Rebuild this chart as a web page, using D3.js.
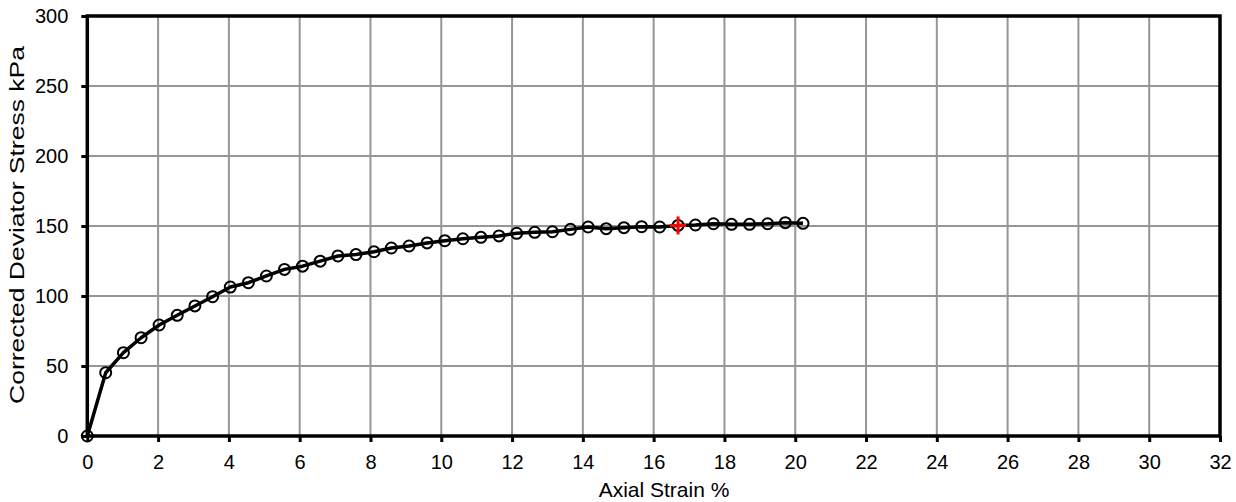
<!DOCTYPE html>
<html>
<head>
<meta charset="utf-8">
<script src="https://cdn.jsdelivr.net/npm/d3@7"></script>
<style>
  html, body { margin: 0; padding: 0; background: #fff; }
  svg { display: block; font-family: "Liberation Sans", Arial, sans-serif; }
</style>
</head>
<body>
<svg id="chart" width="1236" height="502"></svg>
<script>
// Axial strain (%) of each reading
const strain = [0, 0.52, 1.02, 1.52, 2.03, 2.54, 3.04, 3.54, 4.04, 4.55, 5.06, 5.57, 6.08, 6.58, 7.08, 7.59,
  8.1, 8.59, 9.09, 9.6, 10.1, 10.61, 11.12, 11.63, 12.13, 12.64, 13.14, 13.65, 14.15, 14.66, 15.16, 15.66,
  16.17, 16.69, 17.18, 17.69, 18.2, 18.71, 19.22, 19.72, 20.22];
// Corrected deviator stress (kPa) at each reading
const stress = [0, 45.2, 59.5, 70.2, 79.3, 86.2, 92.9, 99.5, 106.4, 109.5, 114.3, 119.0, 121.3, 124.9, 128.6, 129.6,
  131.6, 134.3, 135.7, 137.9, 139.5, 140.9, 141.9, 142.9, 144.8, 145.5, 145.9, 147.6, 149.3, 148.1, 148.8, 149.5,
  149.3, 150.4, 150.7, 151.6, 151.2, 151.2, 151.6, 152.4, 151.9];
// Failure point
const failureStrain = [16.69];
const failureStress = [150.4];
// Tick values
const xTicks = [0, 2, 4, 6, 8, 10, 12, 14, 16, 18, 20, 22, 24, 26, 28, 30, 32];
const yTicks = [0, 50, 100, 150, 200, 250, 300];

const svg = d3.select("#chart");
const plotL = 87.3, plotR = 1220, plotT = 16, plotB = 436;
const FONT = "'Liberation Sans', Arial, sans-serif";

const x = d3.scaleLinear().domain([0, 32]).range([plotL, plotR]);
const y = d3.scaleLinear().domain([0, 300]).range([plotB, plotT]);

// grid
const grid = svg.append("g").attr("stroke", "#969696").attr("stroke-width", 2);
grid.selectAll("line.v").data(xTicks.slice(1, -1)).join("line")
  .attr("x1", d => x(d)).attr("x2", d => x(d)).attr("y1", plotT).attr("y2", plotB);
grid.selectAll("line.h").data(yTicks.slice(1, -1)).join("line")
  .attr("x1", plotL).attr("x2", plotR).attr("y1", d => y(d)).attr("y2", d => y(d));

// axes
const xAxis = svg.append("g").attr("transform", `translate(0,${plotB})`)
  .call(d3.axisBottom(x).tickValues(xTicks).tickSize(6).tickPadding(13).tickSizeOuter(0));
const yAxis = svg.append("g").attr("transform", `translate(${plotL},0)`)
  .call(d3.axisLeft(y).tickValues(yTicks).tickSize(6).tickPadding(13).tickSizeOuter(0));
[xAxis, yAxis].forEach(a => {
  a.select(".domain").remove();
  a.selectAll(".tick line").attr("stroke", "#000").attr("stroke-width", 3);
  a.selectAll(".tick text").attr("fill", "#000").attr("font-size", 20).attr("font-family", FONT);
});

// plot border
svg.append("rect").attr("x", plotL).attr("y", plotT)
  .attr("width", plotR - plotL).attr("height", plotB - plotT)
  .attr("fill", "none").attr("stroke", "#000").attr("stroke-width", 3.5);

// curve
const pts = strain.map((s, i) => [s, stress[i]]);
svg.append("path").datum(pts)
  .attr("fill", "none").attr("stroke", "#000").attr("stroke-width", 3.5)
  .attr("stroke-linejoin", "round")
  .attr("d", d3.line().x(d => x(d[0])).y(d => y(d[1])));

svg.append("g").selectAll("circle").data(pts).join("circle")
  .attr("cx", d => x(d[0])).attr("cy", d => y(d[1])).attr("r", 5.5)
  .attr("fill", "none").attr("stroke", "#000").attr("stroke-width", 2);

// failure marker
const fail = failureStrain.map((s, i) => [s, failureStress[i]]);
const fg = svg.append("g").attr("stroke", "#ff0000").attr("stroke-width", 3);
fail.forEach(d => {
  const cx = x(d[0]), cy = y(d[1]);
  fg.append("line").attr("x1", cx - 8).attr("x2", cx + 8).attr("y1", cy).attr("y2", cy);
  fg.append("line").attr("x1", cx).attr("x2", cx).attr("y1", cy - 9).attr("y2", cy + 9);
});

// axis titles
svg.append("text").attr("x", 664).attr("y", 497)
  .attr("text-anchor", "middle").attr("font-size", 21).attr("font-family", FONT)
  .text("Axial Strain  %");
svg.append("text").attr("transform", `translate(23.5,225) rotate(-90)`)
  .attr("text-anchor", "middle").attr("font-size", 20).attr("font-family", FONT)
  .attr("textLength", 358).attr("lengthAdjust", "spacingAndGlyphs")
  .text("Corrected Deviator Stress  kPa");
</script>
</body>
</html>
